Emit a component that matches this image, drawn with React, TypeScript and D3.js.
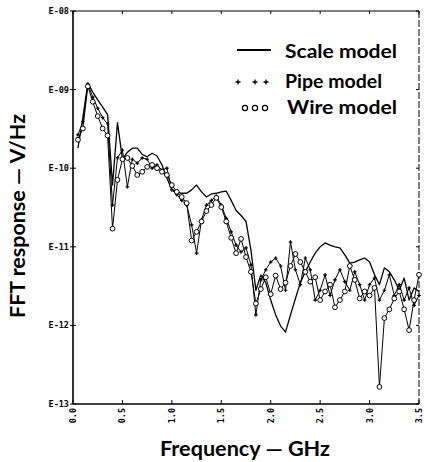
import React from 'react';
import * as d3 from 'd3';

const frequencies = [
  0.05, 0.1, 0.15, 0.2, 0.25, 0.3, 0.35, 0.4, 0.45, 0.5,
  0.55, 0.6, 0.65, 0.7, 0.75, 0.8, 0.85, 0.9, 0.95, 1.0,
  1.05, 1.1, 1.15, 1.2, 1.25, 1.3, 1.35, 1.4, 1.45, 1.5,
  1.55, 1.6, 1.65, 1.7, 1.75, 1.8, 1.85, 1.9, 1.95, 2.0,
  2.05, 2.1, 2.15, 2.2, 2.25, 2.3, 2.35, 2.4, 2.45, 2.5,
  2.55, 2.6, 2.65, 2.7, 2.75, 2.8, 2.85, 2.9, 2.95, 3.0,
  3.05, 3.1, 3.15, 3.2, 3.25, 3.3, 3.35, 3.4, 3.45, 3.5,
];

const scaleModel = [
  1.8e-10, 4.4e-10, 1.2e-9, 9.3e-10, 7.4e-10, 6.0e-10, 4.8e-10, 6.1e-11, 3.8e-10, 1.3e-10,
  1.6e-10, 1.8e-10, 1.8e-10, 1.5e-10, 1.4e-10, 1.55e-10, 1.43e-10, 1.1e-10, 7.5e-11, 5.3e-11,
  5.0e-11, 4.8e-11, 4.8e-11, 5.3e-11, 6.1e-11, 5.0e-11, 4.3e-11, 4.7e-11, 4.8e-11, 5.0e-11,
  5.1e-11, 3.9e-11, 2.9e-11, 2.5e-11, 2.1e-11, 9.1e-12, 2.8e-12, 4.4e-12, 3.5e-12, 2.1e-12,
  1.36e-12, 9.8e-13, 8.2e-13, 1.36e-12, 2.2e-12, 3.5e-12, 4.8e-12, 6.4e-12, 8.3e-12, 1.0e-11,
  1.12e-11, 1.05e-11, 1.0e-11, 9.7e-12, 7.9e-12, 6.2e-12, 6.4e-12, 6.8e-12, 7.2e-12, 6.4e-12,
  4.4e-12, 3.3e-12, 5.4e-12, 4.8e-12, 3.8e-12, 2.8e-12, 4.0e-12, 2.1e-12, 3.0e-12, 2.7e-12,
];

const pipeModel = [
  2.65e-10, 3.9e-10, 1.18e-9, 8.0e-10, 5.8e-10, 4.4e-10, 3.65e-10, 3.4e-11, 1.35e-10, 1.7e-10,
  5.8e-11, 1.3e-10, 1.16e-10, 1.35e-10, 1.3e-10, 1.0e-10, 1.1e-10, 9.5e-11, 1.0e-10, 5.3e-11,
  4.6e-11, 3.9e-11, 3.4e-11, 1.9e-11, 8.3e-12, 2.2e-11, 3.4e-11, 3.9e-11, 4.4e-11, 3.4e-11,
  2.3e-11, 1.55e-11, 1.05e-11, 8.6e-12, 9.7e-12, 5.9e-12, 1.36e-12, 3.8e-12, 5.1e-12, 6.4e-12,
  7.2e-12, 5.7e-12, 2.8e-12, 1.15e-11, 5.1e-12, 3.3e-12, 7.2e-12, 5.1e-12, 2.1e-12, 2.8e-12,
  4.4e-12, 2.4e-12, 3.8e-12, 5.1e-12, 3.6e-12, 2.8e-12, 4.8e-12, 3.3e-12, 2.1e-12, 3.3e-12,
  4.0e-12, 2.1e-12, 2.8e-12, 4.4e-12, 2.4e-12, 3.3e-12, 2.1e-12, 3.0e-12, 1.8e-12, 2.4e-12,
];

const wireModel = [
  2.3e-10, 3.2e-10, 1.1e-9, 7.0e-10, 4.6e-10, 3.2e-10, 2.6e-10, 1.7e-11, 7.1e-11, 1.3e-10,
  1.35e-10, 1.07e-10, 8.2e-11, 9.0e-11, 1.04e-10, 1.1e-10, 1.0e-10, 9.0e-11, 8.2e-11, 6.1e-11,
  5.0e-11, 4.3e-11, 3.6e-11, 1.2e-11, 1.55e-11, 2.1e-11, 2.85e-11, 3.4e-11, 4.2e-11, 3.2e-11,
  2.1e-11, 1.3e-11, 8.3e-12, 1.26e-11, 7.4e-12, 4.8e-12, 1.9e-12, 2.9e-12, 4.1e-12, 2.5e-12,
  4.3e-12, 2.9e-12, 3.5e-12, 5.7e-12, 8.1e-12, 6.4e-12, 4.8e-12, 3.6e-12, 4.1e-12, 2.1e-12,
  2.7e-12, 3.3e-12, 1.7e-12, 2.1e-12, 2.7e-12, 5.7e-12, 3.8e-12, 2.2e-12, 2.7e-12, 2.4e-12,
  3.0e-12, 1.65e-13, 1.24e-12, 1.6e-12, 2.2e-12, 2.7e-12, 1.6e-12, 8.7e-13, 2.1e-12, 4.4e-12,
];

const xTicks = [0, 0.5, 1.0, 1.5, 2.0, 2.5, 3.0, 3.5];
const xTickLabels = ['0.0', '0.5', '1.0', '1.5', '2.0', '2.5', '3.0', '3.5'];
const yTicks = [1e-8, 1e-9, 1e-10, 1e-11, 1e-12, 1e-13];
const yTickLabels = ['E-08', 'E-09', 'E-10', 'E-11', 'E-12', 'E-13'];
const legendLabels = ['Scale model', 'Pipe model', 'Wire model'];

const WIDTH = 424;
const HEIGHT = 462;
const LEFT = 73;
const RIGHT = 419;
const TOP = 11;
const BOTTOM = 404;

const titleFont = 'Lato, "Open Sans", sans-serif';
const tickFont = '"DejaVu Sans Mono", monospace';

export default function App() {
  const x = d3.scaleLinear().domain([0, 3.5]).range([LEFT, RIGHT]);
  const y = d3.scaleLog().domain([1e-13, 1e-8]).range([BOTTOM, TOP]);

  const toPts = (vals: number[]) => vals.map((v, i) => [frequencies[i], v] as [number, number]);
  const line = d3
    .line<[number, number]>()
    .x((d) => x(d[0]))
    .y((d) => y(d[1]));

  const scalePts = toPts(scaleModel);
  const pipePts = toPts(pipeModel);
  const wirePts = toPts(wireModel);

  return (
    <svg
      width={WIDTH}
      height={HEIGHT}
      style={{ position: 'absolute', left: 0, top: 0, background: '#fff' }}
    >
      <rect x={0} y={0} width={WIDTH} height={HEIGHT} fill="#fff" />
      {/* frame */}
      <line x1={LEFT} y1={TOP} x2={LEFT} y2={BOTTOM} stroke="#000" strokeWidth={1.6} />
      <line x1={LEFT} y1={BOTTOM} x2={RIGHT} y2={BOTTOM} stroke="#000" strokeWidth={1.6} />
      <line x1={LEFT} y1={TOP} x2={RIGHT} y2={TOP} stroke="#000" strokeWidth={1} />
      <line x1={RIGHT} y1={TOP} x2={RIGHT} y2={BOTTOM} stroke="#000" strokeWidth={1} strokeDasharray="7,2" />

      {/* y ticks */}
      {yTicks.map((t, i) => (
        <g key={'y' + i}>
          <line x1={LEFT - 3} x2={LEFT + 3} y1={y(t)} y2={y(t)} stroke="#000" strokeWidth={1} />
          <line x1={RIGHT - 3} x2={RIGHT} y1={y(t)} y2={y(t)} stroke="#000" strokeWidth={1} />
          <text
            x={LEFT - 4}
            y={y(t)}
            textAnchor="end"
            dominantBaseline="central"
            fontFamily={tickFont}
            fontWeight="bold"
            fontSize={8.5}
          >
            {yTickLabels[i]}
          </text>
        </g>
      ))}

      {/* x ticks */}
      {xTicks.map((t, i) => (
        <g key={'x' + i}>
          <line x1={x(t)} x2={x(t)} y1={BOTTOM - 4} y2={BOTTOM} stroke="#000" strokeWidth={1} />
          <line x1={x(t)} x2={x(t)} y1={TOP} y2={TOP + 3} stroke="#000" strokeWidth={1} />
          <text
            transform={`translate(${x(t)},${BOTTOM + 4}) rotate(-90)`}
            textAnchor="end"
            dominantBaseline="central"
            fontFamily={tickFont}
            fontWeight="bold"
            fontSize={8.5}
          >
            {xTickLabels[i]}
          </text>
        </g>
      ))}

      {/* series lines */}
      <path d={line(scalePts) || ''} fill="none" stroke="#000" strokeWidth={1.3} strokeLinejoin="round" />
      <path d={line(pipePts) || ''} fill="none" stroke="#000" strokeWidth={1} strokeLinejoin="round" />
      <path d={line(wirePts) || ''} fill="none" stroke="#000" strokeWidth={1} strokeLinejoin="round" />

      {/* pipe markers */}
      {pipePts.map((d, i) => (
        <path
          key={'p' + i}
          d={`M${x(d[0]) - 1.8},${y(d[1])}h3.6M${x(d[0])},${y(d[1]) - 1.8}v3.6`}
          stroke="#000"
          strokeWidth={1.2}
        />
      ))}
      {/* wire markers */}
      {wirePts.map((d, i) => (
        <circle key={'w' + i} cx={x(d[0])} cy={y(d[1])} r={2.4} fill="#fff" stroke="#000" strokeWidth={1} />
      ))}

      {/* legend */}
      <line x1={237} x2={271} y1={50} y2={50} stroke="#000" strokeWidth={2} />
      <text x={285} y={58} fontFamily={titleFont} fontWeight="bold" fontSize={19} textLength={112} lengthAdjust="spacingAndGlyphs">
        {legendLabels[0]}
      </text>
      {[238, 255, 266].map((px, i) => (
        <path key={'lp' + i} d={`M${px - 2.5},82h5M${px},79.5v5`} stroke="#000" strokeWidth={1.3} />
      ))}
      <text x={285} y={88} fontFamily={titleFont} fontWeight="bold" fontSize={19} textLength={97} lengthAdjust="spacingAndGlyphs">
        {legendLabels[1]}
      </text>
      {[245, 255, 265].map((px, i) => (
        <circle key={'lw' + i} cx={px} cy={108} r={2.6} fill="#fff" stroke="#000" strokeWidth={1.2} />
      ))}
      <text x={287} y={114} fontFamily={titleFont} fontWeight="bold" fontSize={19} textLength={110} lengthAdjust="spacingAndGlyphs">
        {legendLabels[2]}
      </text>

      {/* axis titles */}
      <text
        transform={`translate(25,216) rotate(-90)`}
        textAnchor="middle"
        fontFamily={titleFont}
        fontWeight="bold"
        fontSize={20}
        textLength={204}
        lengthAdjust="spacingAndGlyphs"
      >
        FFT response — V/Hz
      </text>
      <text
        x={245}
        y={456}
        textAnchor="middle"
        fontFamily={titleFont}
        fontWeight="bold"
        fontSize={20}
        textLength={170}
        lengthAdjust="spacingAndGlyphs"
      >
        Frequency — GHz
      </text>
    </svg>
  );
}
